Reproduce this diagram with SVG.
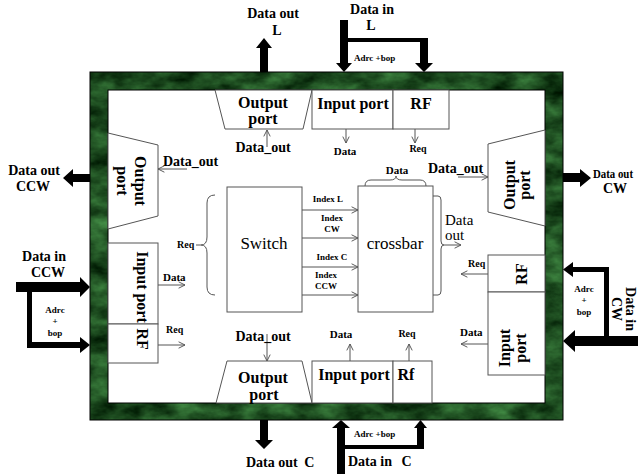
<svg xmlns="http://www.w3.org/2000/svg" width="638" height="474" viewBox="0 0 638 474">
<defs>
<style>
.t{font-family:"Liberation Serif","Times New Roman",serif;fill:#000}
.b{font-weight:bold}
.f16{font-size:16px}
.f14{font-size:14px}
.f11{font-size:11px}
.f10{font-size:10px}
.f9{font-size:9px}
.box{fill:#fff;stroke:#555;stroke-width:1}
.thin{fill:none;stroke:#555;stroke-width:1}
.thick{fill:#000}
.m{text-anchor:middle}
</style>
<marker id="v" viewBox="0 0 10 10" refX="9" refY="5" markerWidth="8" markerHeight="8" markerUnits="userSpaceOnUse" orient="auto">
<path d="M1,1 L9,5 L1,9" fill="none" stroke="#555" stroke-width="1.2"/>
</marker>
<filter id="marble" x="0" y="0" width="100%" height="100%" color-interpolation-filters="sRGB">
<feTurbulence type="fractalNoise" baseFrequency="0.035 0.06" numOctaves="4" seed="7" result="n"/>
<feColorMatrix in="n" type="matrix" values="0.35 0 0 0 -0.06  0.6 0 0 0 0  0.35 0 0 0 -0.05  0 0 0 0 1" result="c"/>
<feComposite in="c" in2="SourceGraphic" operator="in"/>
</filter>
</defs>

<g id="frame">
<path d="M90,72 H563 V420 H90 Z M108,90 V403 H545 V90 Z" fill="#1e4e2a" fill-rule="evenodd" filter="url(#marble)"/>
<rect x="90" y="72" width="473" height="348" fill="none" stroke="#000" stroke-width="1"/>
<rect x="108" y="90" width="437" height="313" fill="#fff" stroke="#000" stroke-width="1"/>
</g>

<g id="out-port-top">
<path class="box" d="M215,90 H312 L303,129 H225 Z"/>
<text class="t b f16 m" x="263" y="108">Output</text>
<text class="t b f16 m" x="263" y="124">port</text>
</g>

<g id="in-port-top">
<rect class="box" x="312" y="90" width="81" height="39"/>
<rect class="box" x="393" y="90" width="56" height="39"/>
<text class="t b f16 m" x="353" y="109">Input port</text>
<text class="t b f16 m" x="421" y="109">RF</text>
</g>

<g id="out-port-left">
<path class="box" d="M108,133 L158,145 V216 L108,229 Z"/>
<text class="t b f16 m" transform="translate(135,181) rotate(90)">Output</text>
<text class="t b f16 m" transform="translate(117,181) rotate(90)">port</text>
</g>

<g id="in-port-left">
<rect class="box" x="108" y="243" width="50" height="81"/>
<rect class="box" x="108" y="324" width="50" height="39"/>
<text class="t b f16 m" transform="translate(137,287) rotate(90)">Input port</text>
<text class="t b f16 m" transform="translate(137,339) rotate(90)">RF</text>
</g>

<g id="out-port-right">
<path class="box" d="M488,144 L545,130 V226 L488,212 Z"/>
<text class="t b f16 m" transform="translate(515,185) rotate(-90)">Output</text>
<text class="t b f16 m" transform="translate(530,185) rotate(-90)">port</text>
</g>

<g id="in-port-right">
<rect class="box" x="488" y="255" width="57" height="37"/>
<rect class="box" x="488" y="292" width="57" height="83"/>
<text class="t b f16 m" transform="translate(527,274) rotate(-90)">RF</text>
<text class="t b f16 m" transform="translate(510,348) rotate(-90)">Input</text>
<text class="t b f16 m" transform="translate(526,348) rotate(-90)">port</text>
</g>

<g id="out-port-bottom">
<path class="box" d="M227,361 H302 L312,403 H216 Z"/>
<text class="t b f16 m" x="263" y="383">Output</text>
<text class="t b f16 m" x="264" y="400">port</text>
</g>

<g id="in-port-bottom">
<rect class="box" x="312" y="361" width="81" height="42"/>
<rect class="box" x="393" y="361" width="39" height="42"/>
<text class="t b f16 m" x="354" y="380">Input port</text>
<text class="t b f16 m" x="406" y="380">Rf</text>
</g>

<g id="switch">
<rect class="box" x="227" y="187" width="75" height="125"/>
<text class="t f16 m" x="264" y="249" style="font-size:17px">Switch</text>
</g>

<g id="crossbar">
<rect class="box" x="358" y="186" width="75" height="126"/>
<text class="t f16 m" x="395" y="249" style="font-size:17px">crossbar</text>
</g>

<g id="connectors">
<path class="thick" d="M260,72 V48 H256 L264,38 L272,48 H268 V72 Z"/>
<path class="thick" d="M340,20 H348 V38 H428 V63 H433 L424,72 L415,63 H420 V42 H348 V63 H352 L344,72 L336,63 H340 Z"/>
<path class="thick" d="M90,174 H73 V169 L63,178 L73,187 V182 H90 Z"/>
<path class="thick" d="M16,282 H80 V277 L90,287 L80,297 V292 H32 V342 H80 V337 L90,345 L80,353 V348 H27 V292 H16 Z"/>
<path class="thick" d="M563,173 H580 V169 L591,178 L580,187 V182 H563 Z"/>
<path class="thick" d="M638,336 H609 V267 H573 V262 L563,269.5 L573,277 V272 H604 V336 H575 V330 L563,341 L575,352 V346 H638 Z"/>
<path class="thick" d="M260,420 V440 H255 L264,449 L273,440 H268 V420 Z"/>
<path class="thick" d="M337,474 V428 H332 L341,420 L350,428 H345 V445 H417 V428 H414 L420.5,420 L427,428 H424 V449 H345 V474 Z"/>
<line class="thin" x1="267" y1="147" x2="267" y2="130" marker-end="url(#v)"/>
<line class="thin" x1="346" y1="129" x2="346" y2="143" marker-end="url(#v)"/>
<line class="thin" x1="415" y1="129" x2="415" y2="143" marker-end="url(#v)"/>
<line class="thin" x1="187" y1="169" x2="158" y2="169" marker-end="url(#v)"/>
<line class="thin" x1="158" y1="285" x2="185" y2="285" marker-end="url(#v)"/>
<line class="thin" x1="158" y1="345" x2="185" y2="345" marker-end="url(#v)"/>
<line class="thin" x1="302" y1="210" x2="358" y2="210" marker-end="url(#v)"/>
<line class="thin" x1="302" y1="238" x2="358" y2="238" marker-end="url(#v)"/>
<line class="thin" x1="302" y1="267" x2="358" y2="267" marker-end="url(#v)"/>
<line class="thin" x1="302" y1="295" x2="358" y2="295" marker-end="url(#v)"/>
<line class="thin" x1="444" y1="245" x2="461" y2="245" marker-end="url(#v)"/>
<line class="thin" x1="458" y1="177" x2="488" y2="177" marker-end="url(#v)"/>
<line class="thin" x1="488" y1="274" x2="461" y2="274" marker-end="url(#v)"/>
<line class="thin" x1="488" y1="344" x2="461" y2="344" marker-end="url(#v)"/>
<line class="thin" x1="267" y1="334" x2="267" y2="361" marker-end="url(#v)"/>
<line class="thin" x1="350" y1="361" x2="350" y2="344" marker-end="url(#v)"/>
<line class="thin" x1="409" y1="361" x2="409" y2="344" marker-end="url(#v)"/>
<path class="thin" d="M215,195 Q207,195 207,203 V237 Q207,245 201,245 Q207,245 207,253 V287 Q207,295 215,295"/>
<line class="thin" x1="196" y1="245" x2="201" y2="245"/>
<path class="thin" d="M365,186 Q365,180 371,180 H390 Q396,180 396,176 Q396,180 402,180 H420 Q426,180 426,186"/>
<path class="thin" d="M433,196 H438 Q441,196 441,200 V241 Q441,245 444,245 Q441,245 441,249 V291 Q441,295 438,295 H433"/>
</g>

<g id="labels">
<text class="t b f14 m" x="273" y="18">Data out</text>
<text class="t b f14 m" x="277" y="35">L</text>
<text class="t b f14 m" x="372" y="14">Data in</text>
<text class="t b f14 m" x="371" y="30">L</text>
<text class="t b f9" x="354" y="61">Adrc +bop</text>
<text class="t b f14 m" x="263" y="152">Data_out</text>
<text class="t b f11 m" x="345" y="155">Data</text>
<text class="t b f10 m" x="418" y="152">Req</text>

<text class="t b f14 m" x="34" y="175">Data out</text>
<text class="t b f14 m" x="33" y="191">CCW</text>
<text class="t b f14" x="163" y="166">Data_out</text>
<text class="t b f14 m" x="44" y="261">Data in</text>
<text class="t b f14 m" x="48" y="277">CCW</text>
<text class="t b f9 m" x="55" y="313">Adrc</text>
<text class="t b f9 m" x="55" y="324">+</text>
<text class="t b f9 m" x="55" y="336">bop</text>
<text class="t b f11" x="163" y="281">Data</text>
<text class="t b f10" x="166" y="333">Req</text>
<text class="t b f10" x="177" y="248">Req</text>

<text class="t b f9 m" x="328" y="202">Index L</text>
<text class="t b f9 m" x="332" y="221">Index</text>
<text class="t b f9 m" x="332" y="232">CW</text>
<text class="t b f9 m" x="332" y="260">Index C</text>
<text class="t b f9 m" x="326" y="278">Index</text>
<text class="t b f9 m" x="326" y="289">CCW</text>
<text class="t b f11 m" x="397" y="174">Data</text>
<text class="t" x="445" y="225" style="font-size:15px">Data</text>
<text class="t" x="445" y="240" style="font-size:15px">out</text>

<text class="t b f14" x="428" y="173">Data_out</text>
<text class="t b" x="593" y="178" style="font-size:12.5px" textLength="40" lengthAdjust="spacingAndGlyphs">Data out</text>
<text class="t b f14 m" x="615" y="193">CW</text>
<text class="t b f10" x="468" y="267">Req</text>
<text class="t b f11" x="460" y="336">Data</text>
<text class="t b f9 m" x="584" y="292">Adrc</text>
<text class="t b f9 m" x="584" y="303">+</text>
<text class="t b f9 m" x="584" y="315">bop</text>
<text class="t b f14 m" transform="translate(626,309) rotate(90)">Data in</text>
<text class="t b f14 m" transform="translate(612,309) rotate(90)">CW</text>

<text class="t b f14 m" x="263" y="341">Data_out</text>
<text class="t b f11 m" x="341" y="338">Data</text>
<text class="t b f10 m" x="407" y="337">Req</text>
<text class="t b f14" x="246" y="467">Data out <tspan dx="3">C</tspan></text>
<text class="t b f9" x="354" y="437">Adrc +bop</text>
<text class="t b f14" x="348" y="466">Data in <tspan dx="6">C</tspan></text>
</g>
</svg>
